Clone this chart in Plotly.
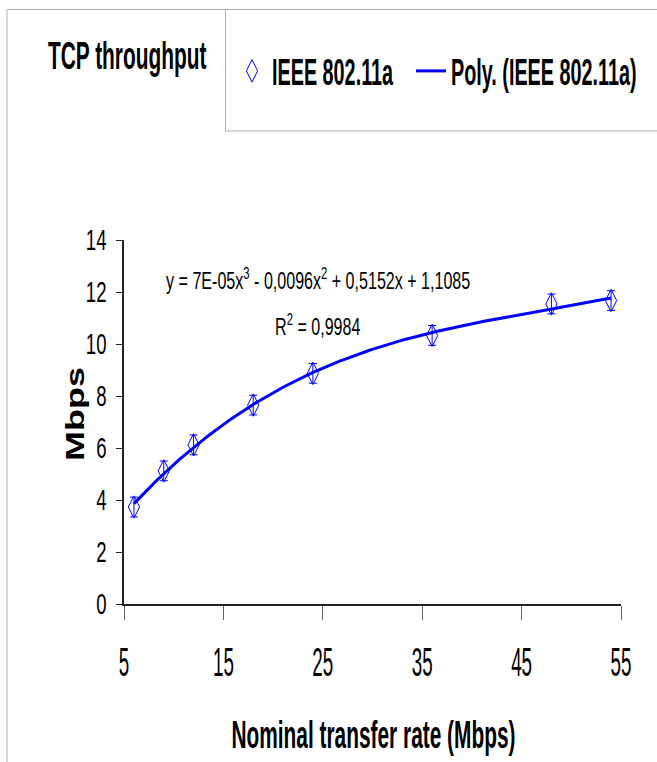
import numpy as np
import plotly.graph_objects as go

# ---- data ----
rate_nominal = [6, 9, 12, 18, 24, 36, 48, 54]
throughput = [3.73, 5.12, 6.12, 7.65, 8.87, 10.33, 11.54, 11.67]
err = [0.38, 0.38, 0.38, 0.38, 0.38, 0.38, 0.38, 0.38]
x_ticks = [5, 15, 25, 35, 45, 55]
y_ticks = [0, 2, 4, 6, 8, 10, 12, 14]
series_name = "IEEE 802.11a"
trend_name = "Poly. (IEEE 802.11a)"
chart_title = "TCP throughput"
x_title = "Nominal transfer rate (Mbps)"
y_title = "Mbps"
eq_text = "y = 7E-05x<sup>3</sup> - 0,0096x<sup>2</sup> + 0,5152x + 1,1085"
r2_text = "R<sup>2</sup> = 0,9984"

# third-order polynomial trendline fitted to the data (as the spreadsheet does)
coef = np.polyfit(rate_nominal, throughput, 3)
x_fit = np.linspace(min(rate_nominal), max(rate_nominal), 200)
y_fit = np.polyval(coef, x_fit)

W, H = 657, 762
L, R, T, B = 124, 36, 240, 158
PW, PH = W - L - R, H - T - B


def px(x):
    return (x - L) / PW


def py(y):
    return (H - B - y) / PH


FONT = "Liberation Sans"
BLUE = "#0000ff"
GREY = "#b0b0b0"

fig = go.Figure()
fig.add_trace(go.Scatter(
    x=rate_nominal, y=throughput, mode="markers", name=series_name,
    legend="legend",
    marker=dict(symbol="diamond-tall-open", size=16, color=BLUE,
                line=dict(color=BLUE, width=1)),
    error_y=dict(type="data", array=err, visible=True, color=BLUE,
                 thickness=1, width=4),
))
fig.add_trace(go.Scatter(
    x=x_fit, y=y_fit, mode="lines", name=trend_name, legend="legend2",
    line=dict(color=BLUE, width=3),
))

legend_font = dict(family=FONT, size=36, color="black", weight="bold")
fig.update_layout(
    width=W, height=H,
    margin=dict(l=L, r=R, t=T, b=B, pad=0, autoexpand=False),
    paper_bgcolor="white", plot_bgcolor="white",
    showlegend=True,
    legend=dict(
        orientation="h", x=px(232), xanchor="left", y=py(71), yanchor="middle",
        font=legend_font, bgcolor="rgba(0,0,0,0)", borderwidth=0, itemwidth=30,
    ),
    legend2=dict(
        orientation="h", x=px(411), xanchor="left", y=py(71), yanchor="middle",
        font=legend_font, bgcolor="rgba(0,0,0,0)", borderwidth=0, itemwidth=30,
    ),
    xaxis=dict(
        range=[5, 55], tickvals=x_ticks, ticktext=[str(v) for v in x_ticks],
        showgrid=False, zeroline=False, showline=True, linecolor="#222",
        linewidth=1.5, ticks="outside", ticklen=14, tickcolor="#666",
        tickwidth=1, ticklabelstandoff=8,
        tickfont=dict(family=FONT, size=40, color="black"),
    ),
    yaxis=dict(
        range=[0, 14], tickvals=y_ticks, ticktext=[str(v) for v in y_ticks],
        showgrid=False, zeroline=False, showline=True, linecolor="#222",
        linewidth=1.5, ticks="outside", ticklen=6, tickcolor="#222",
        tickwidth=1, ticklabelstandoff=4,
        tickfont=dict(family=FONT, size=29, color="black"),
    ),
    shapes=[
        dict(type="line", xref="paper", yref="paper", x0=px(7), x1=px(W),
             y0=py(9.5), y1=py(9.5), line=dict(color=GREY, width=1)),
        dict(type="line", xref="paper", yref="paper", x0=px(7), x1=px(7),
             y0=py(9.5), y1=py(H), line=dict(color=GREY, width=1)),
        dict(type="line", xref="paper", yref="paper", x0=px(225.5), x1=px(225.5),
             y0=py(9.5), y1=py(131), line=dict(color=GREY, width=1)),
        dict(type="line", xref="paper", yref="paper", x0=px(225.5), x1=px(W),
             y0=py(131), y1=py(131), line=dict(color=GREY, width=1)),
    ],
    annotations=[
        dict(text=chart_title, xref="paper", yref="paper", x=px(127.5), y=py(56),
             xanchor="center", yanchor="middle", showarrow=False,
             font=dict(family=FONT, size=38, color="black", weight="bold")),
        dict(text=eq_text, xref="paper", yref="paper", x=px(318), y=py(279),
             xanchor="center", yanchor="middle", showarrow=False,
             font=dict(family=FONT, size=24, color="black")),
        dict(text=r2_text, xref="paper", yref="paper", x=px(317), y=py(325),
             xanchor="center", yanchor="middle", showarrow=False,
             font=dict(family=FONT, size=24, color="black")),
        dict(text=x_title, xref="paper", yref="paper", x=px(373), y=py(734),
             xanchor="center", yanchor="middle", showarrow=False,
             font=dict(family=FONT, size=39, color="black", weight="bold")),
        dict(text=y_title, xref="paper", yref="paper", x=px(75), y=py(414),
             xanchor="center", yanchor="middle", showarrow=False, textangle=-90,
             font=dict(family=FONT, size=36, color="black", weight="bold")),
    ],
)

# The reference image is horizontally condensed; narrow the (real, selectable)
# SVG text elements horizontally around their anchor point to match.
post = r"""
var gd = document.getElementById('{plot_id}');
function squish(nodes, f) {
  nodes.forEach(function(t) {
    var cur = t.getAttribute('transform') || '';
    var orig = (cur === t.getAttribute('data-applied')) ? (t.getAttribute('data-t0') || '') : cur;
    var cx = parseFloat(t.getAttribute('x')) || 0;
    var tr = orig + ' translate(' + cx + ',0) scale(' + f + ',1) translate(' + (-cx) + ',0)';
    t.setAttribute('data-t0', orig);
    t.setAttribute('data-applied', tr);
    t.setAttribute('transform', tr);
  });
}
function squishGroup(g, cx, f) {
  g.setAttribute('transform',
    'translate(' + cx + ',0) scale(' + f + ',1) translate(' + (-cx) + ',0)');
}
function applyAll() {
  squish(gd.querySelectorAll('.xtick text'), 0.47);
  squish(gd.querySelectorAll('.ytick text'), 0.64);
  squish(gd.querySelectorAll('text.legendtext, text.legend2text'), 0.55);
  var fa = {0: 0.55, 1: 0.67, 2: 0.67, 3: 0.535};
  gd.querySelectorAll('g.annotation').forEach(function(g) {
    var i = g.getAttribute('data-index');
    if (fa[i] !== undefined) squish(g.querySelectorAll('text.annotation-text'), fa[i]);
    if (i === '4') squishGroup(g, 75, 0.72);
  });
}
applyAll();
gd.on('plotly_afterplot', applyAll);
setTimeout(applyAll, 50);
setTimeout(applyAll, 300);
"""

fig.write_html("out.html", post_script=post)
